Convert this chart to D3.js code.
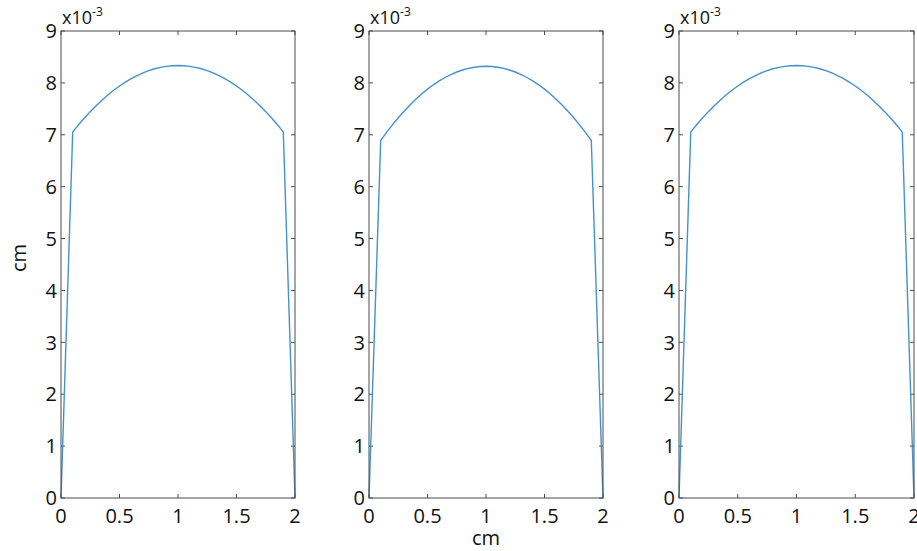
<!DOCTYPE html>
<html><head><meta charset="utf-8">
<script src="https://cdn.jsdelivr.net/npm/d3@7"></script>
<style>body{margin:0;background:#fff}svg{display:block}</style>
</head><body><svg id="c" width="917" height="551"></svg>
<script>
const xs = [0,0.1,0.15,0.2,0.25,0.3,0.35,0.4,0.45,0.5,0.55,0.6,0.65,0.7,0.75,0.8,0.85,0.9,0.95,1.0,
            1.05,1.1,1.15,1.2,1.25,1.3,1.35,1.4,1.45,1.5,1.55,1.6,1.65,1.7,1.75,1.8,1.85,1.9,2.0];
const series1 = [0,7.055,7.193,7.324,7.446,7.561,7.667,7.766,7.857,7.940,8.015,8.082,8.141,8.193,8.236,8.272,8.299,8.319,8.331,8.335,
                 8.331,8.319,8.299,8.272,8.236,8.193,8.141,8.082,8.015,7.940,7.857,7.766,7.667,7.561,7.446,7.324,7.193,7.055,0];
const series2 = [0,6.890,7.045,7.190,7.327,7.455,7.574,7.685,7.786,7.879,7.963,8.038,8.104,8.161,8.210,8.249,8.280,8.302,8.316,8.320,
                 8.316,8.302,8.280,8.249,8.210,8.161,8.104,8.038,7.963,7.879,7.786,7.685,7.574,7.455,7.327,7.190,7.045,6.890,0];
const series3 = [0,7.055,7.193,7.324,7.446,7.561,7.667,7.766,7.857,7.940,8.015,8.082,8.141,8.193,8.236,8.272,8.299,8.319,8.331,8.335,
                 8.331,8.319,8.299,8.272,8.236,8.193,8.141,8.082,8.015,7.940,7.857,7.766,7.667,7.561,7.446,7.324,7.193,7.055,0];
const xTicks = [0,0.5,1,1.5,2];
const xTickLabels = ["0","0.5","1","1.5","2"];
const yTicks = [0,1,2,3,4,5,6,7,8,9];
const xLabel = "cm", yLabel = "cm", scaleLabel = "x10", scaleExp = "-3";

(function(){
const panels = [
  {left:61, right:295, data:series1},
  {left:369, right:603, data:series2},
  {left:679, right:914, data:series3}
];
const pTop = 31, pBottom = 498;
const svg = d3.select("#c");
const font = "'Open Sans', sans-serif";
const axisColor = "#4d4d4d";
const fs = 20;

panels.forEach((p, i) => {
  const x = d3.scaleLinear().domain([0,2]).range([p.left, p.right]);
  const y = d3.scaleLinear().domain([0,9]).range([pBottom, pTop]);
  const g = svg.append("g");
  const tk = 4;
  xTicks.forEach((t, j) => {
    g.append("line").attr("x1", x(t)).attr("x2", x(t)).attr("y1", pBottom).attr("y2", pBottom - tk).attr("stroke", axisColor);
    g.append("line").attr("x1", x(t)).attr("x2", x(t)).attr("y1", pTop).attr("y2", pTop + tk).attr("stroke", axisColor);
    g.append("text").attr("x", x(t)).attr("y", pBottom + 25).attr("text-anchor", "middle")
      .attr("font-family", font).attr("font-size", fs).attr("fill", "#111").text(xTickLabels[j]);
  });
  yTicks.forEach(t => {
    g.append("line").attr("x1", p.left).attr("x2", p.left + tk).attr("y1", y(t)).attr("y2", y(t)).attr("stroke", axisColor);
    g.append("line").attr("x1", p.right).attr("x2", p.right - tk).attr("y1", y(t)).attr("y2", y(t)).attr("stroke", axisColor);
    g.append("text").attr("x", p.left - 4).attr("y", y(t)).attr("dy", "0.36em").attr("text-anchor", "end")
      .attr("font-family", font).attr("font-size", fs).attr("fill", "#111").text(t);
  });
  const line = d3.line().x((d, k) => x(xs[k])).y(d => y(d));
  g.append("path").datum(p.data).attr("d", line).attr("fill", "none")
    .attr("stroke", "#4392c9").attr("stroke-width", 1.4);
  g.append("rect").attr("x", p.left).attr("y", pTop).attr("width", p.right - p.left).attr("height", pBottom - pTop)
    .attr("fill", "none").attr("stroke", axisColor).attr("stroke-width", 1);
  const st = g.append("text").attr("x", p.left + 1).attr("y", 24).attr("font-family", font).attr("font-size", 18).attr("fill", "#111");
  st.append("tspan").text(scaleLabel);
  st.append("tspan").attr("font-size", 12).attr("dy", -8).text(scaleExp);
});
svg.append("text").attr("x", 486).attr("y", 545).attr("text-anchor", "middle")
  .attr("font-family", font).attr("font-size", fs).attr("fill", "#111").text(xLabel);
svg.append("text").attr("transform", "translate(26,258) rotate(-90)").attr("text-anchor", "middle")
  .attr("font-family", font).attr("font-size", fs).attr("fill", "#111").text(yLabel);
})();
</script></body></html>
